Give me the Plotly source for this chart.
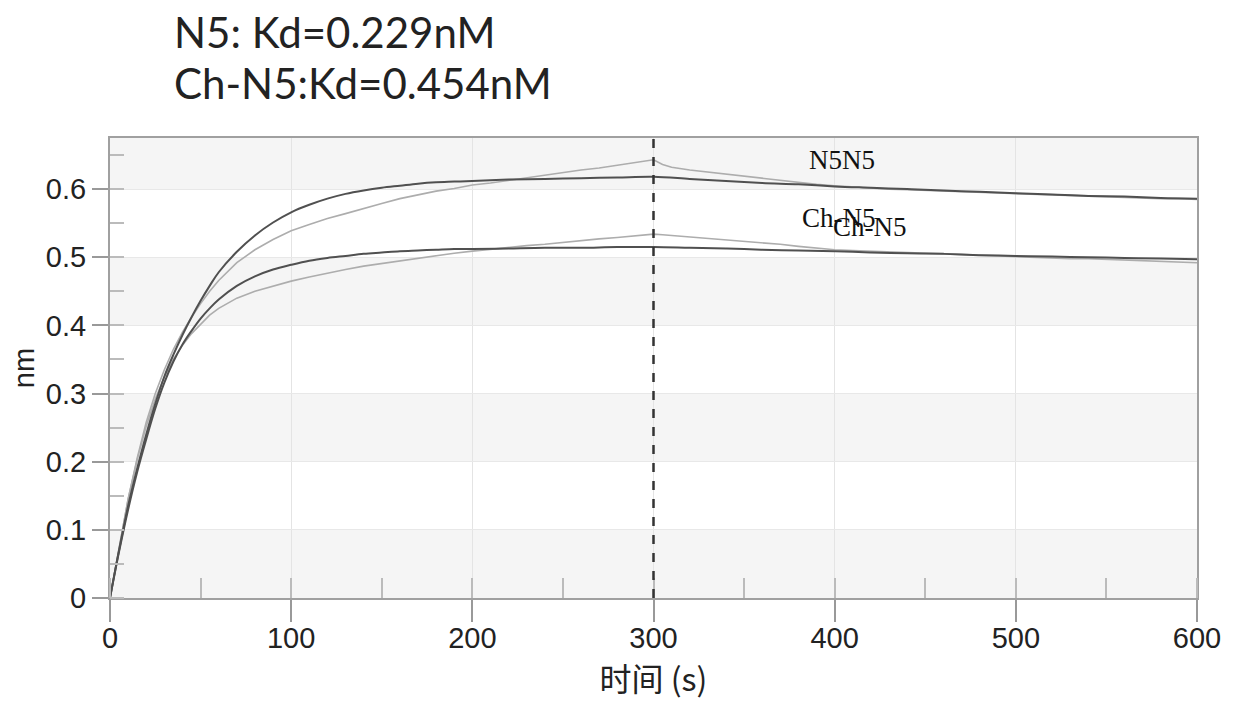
import plotly.graph_objects as go

# ---------------- data ----------------
fit_t = [0, 5, 10, 15, 20, 25, 30, 35, 40, 45, 50, 55, 60, 70, 80, 90, 100, 110, 120, 130,
         140, 150, 160, 170, 180, 190, 200, 220, 240, 260, 280, 300, 320, 340, 360, 380,
         400, 420, 440, 460, 480, 500, 520, 540, 560, 580, 600]
n5_fit = [0.0, 0.07, 0.135, 0.19, 0.24, 0.285, 0.325, 0.357, 0.386, 0.412, 0.436, 0.458, 0.478,
          0.508, 0.532, 0.551, 0.566, 0.577, 0.586, 0.593, 0.598, 0.602, 0.605, 0.608, 0.610,
          0.611, 0.612, 0.614, 0.615, 0.616, 0.617, 0.618, 0.615, 0.612, 0.609, 0.607, 0.604,
          0.602, 0.600, 0.598, 0.596, 0.594, 0.592, 0.590, 0.589, 0.587, 0.586]
chn5_fit = [0.0, 0.068, 0.13, 0.185, 0.233, 0.278, 0.316, 0.347, 0.372, 0.392, 0.41, 0.425, 0.438,
            0.458, 0.472, 0.482, 0.489, 0.495, 0.499, 0.502, 0.505, 0.507, 0.509, 0.510, 0.511,
            0.512, 0.512, 0.513, 0.514, 0.514, 0.515, 0.515, 0.514, 0.513, 0.511, 0.510, 0.509,
            0.507, 0.506, 0.505, 0.503, 0.502, 0.501, 0.500, 0.499, 0.498, 0.497]

data_t = [0, 5, 10, 15, 20, 25, 30, 35, 40, 45, 50, 55, 60, 70, 80, 90, 100, 110, 120, 130, 140,
          150, 160, 170, 180, 190, 200, 210, 220, 230, 240, 250, 260, 270, 280, 290, 300, 305,
          310, 320, 330, 340, 350, 360, 370, 380, 390, 400, 410, 420, 430, 440, 450, 460, 470,
          480, 490, 500, 510, 520, 530, 540, 550, 560, 570, 580, 590, 600]
n5_data = [0.0, 0.075, 0.145, 0.205, 0.258, 0.3, 0.335, 0.365, 0.39, 0.412, 0.432, 0.45, 0.466,
           0.492, 0.511, 0.526, 0.539, 0.548, 0.557, 0.564, 0.572, 0.579, 0.586, 0.592, 0.597,
           0.601, 0.606, 0.609, 0.613, 0.617, 0.621, 0.624, 0.628, 0.631, 0.635, 0.638, 0.643,
           0.636, 0.632, 0.628, 0.625, 0.621, 0.619, 0.615, 0.613, 0.610, 0.607, 0.605, 0.603,
           0.602, 0.600, 0.599, 0.598, 0.597, 0.596, 0.595, 0.594, 0.593, 0.592, 0.591, 0.590,
           0.589, 0.589, 0.588, 0.587, 0.586, 0.586, 0.585]
chn5_data = [0.0, 0.075, 0.145, 0.203, 0.252, 0.292, 0.324, 0.35, 0.371, 0.388, 0.402, 0.415, 0.425,
             0.44, 0.45, 0.458, 0.465, 0.471, 0.477, 0.482, 0.487, 0.491, 0.495, 0.499, 0.503,
             0.506, 0.509, 0.512, 0.514, 0.517, 0.519, 0.522, 0.524, 0.527, 0.529, 0.531, 0.534,
             0.533, 0.532, 0.530, 0.528, 0.526, 0.524, 0.522, 0.519, 0.516, 0.513, 0.511, 0.510,
             0.509, 0.508, 0.507, 0.506, 0.505, 0.504, 0.503, 0.502, 0.501, 0.500, 0.499, 0.498,
             0.498, 0.497, 0.496, 0.495, 0.494, 0.493, 0.492]

switch_time = 300
x_ticks = [0, 100, 200, 300, 400, 500, 600]
y_ticks = [0, 0.1, 0.2, 0.3, 0.4, 0.5, 0.6]
y_tick_text = ["0", "0.1", "0.2", "0.3", "0.4", "0.5", "0.6"]
y_top = 0.675
title_lines = ["N5: Kd=0.229nM", "Ch-N5:Kd=0.454nM"]
curve_labels = ["N5N5", "Ch-N5", "Ch-N5"]

# ---------------- figure ----------------
fig = go.Figure()

DATA_COL = "#adadad"
FIT_COL = "#505050"

fig.add_trace(go.Scatter(x=data_t, y=n5_data, mode="lines",
                         line=dict(color=DATA_COL, width=1.6), showlegend=False))
fig.add_trace(go.Scatter(x=data_t, y=chn5_data, mode="lines",
                         line=dict(color=DATA_COL, width=1.6), showlegend=False))
fig.add_trace(go.Scatter(x=fit_t, y=n5_fit, mode="lines", line_shape="spline",
                         line=dict(color=FIT_COL, width=2), showlegend=False))
fig.add_trace(go.Scatter(x=fit_t, y=chn5_fit, mode="lines", line_shape="spline",
                         line=dict(color=FIT_COL, width=2), showlegend=False))

# alternating background bands
bands = y_ticks + [y_top]
shapes = []
for i in range(len(bands) - 1):
    if i % 2 == 0:
        shapes.append(dict(type="rect", xref="paper", yref="y", x0=0, x1=1,
                           y0=bands[i], y1=bands[i + 1], fillcolor="#f5f5f5",
                           line=dict(width=0), layer="below"))
# phase switch line
shapes.append(dict(type="line", xref="x", yref="paper", x0=switch_time, x1=switch_time,
                   y0=0, y1=1, line=dict(color="#333333", width=2.5, dash="dash")))
fig.update_layout(shapes=shapes)

# curve labels
label_pos = [(385, 0.643), (381, 0.557), (398, 0.544)]
for (lx, ly), txt in zip(label_pos, curve_labels):
    fig.add_annotation(x=lx, y=ly, text=txt, xanchor="left", yanchor="middle",
                       showarrow=False,
                       font=dict(family="Liberation Serif", size=27, color="#111111"))

# title lines
for ty, txt in zip([1.231, 1.12], title_lines):
    fig.add_annotation(xref="paper", yref="paper", x=0.058, y=ty, xanchor="left",
                       yanchor="middle", showarrow=False, text=txt, borderpad=0,
                       font=dict(family="Lato", size=42, color="#222222"))

axis_font = dict(family="Liberation Sans", size=29, color="#222222")

fig.update_xaxes(range=[0, 600], tickvals=x_ticks, ticks="outside", ticklen=22,
                 tickwidth=1.5, tickcolor="#999999", showline=True, linecolor="#a0a0a0",
                 linewidth=2, mirror=True, showgrid=True, gridcolor="#e4e4e4", gridwidth=1,
                 zeroline=False, tickfont=axis_font, ticklabelstandoff=-9,
                 minor=dict(ticks="inside", ticklen=20, dtick=50, tickcolor="#bbbbbb",
                            showgrid=False),
                 title=dict(text="时间 (s)", standoff=8,
                            font=dict(family="Noto Sans CJK SC, Liberation Sans", size=32,
                                      color="#222222")))
fig.update_yaxes(range=[0, y_top], tickvals=y_ticks, ticktext=y_tick_text,
                 ticks="outside", ticklen=16, tickwidth=1.5, tickcolor="#999999",
                 showline=True, linecolor="#a0a0a0", linewidth=2, mirror=True,
                 showgrid=True, gridcolor="#e8e8e8", gridwidth=1, zeroline=False,
                 tickfont=axis_font,
                 minor=dict(ticks="inside", ticklen=14, dtick=0.05, tickcolor="#bbbbbb",
                            showgrid=False),
                 title=dict(text="nm", standoff=6,
                            font=dict(family="Liberation Sans", size=29, color="#222222")))

# the page body adds an 8 px offset, so margins are shifted to keep the plot in place
fig.update_layout(width=1236, height=706, margin=dict(l=102, r=47, t=130, b=116),
                  paper_bgcolor="white", plot_bgcolor="white")

fig.write_html("out.html")
